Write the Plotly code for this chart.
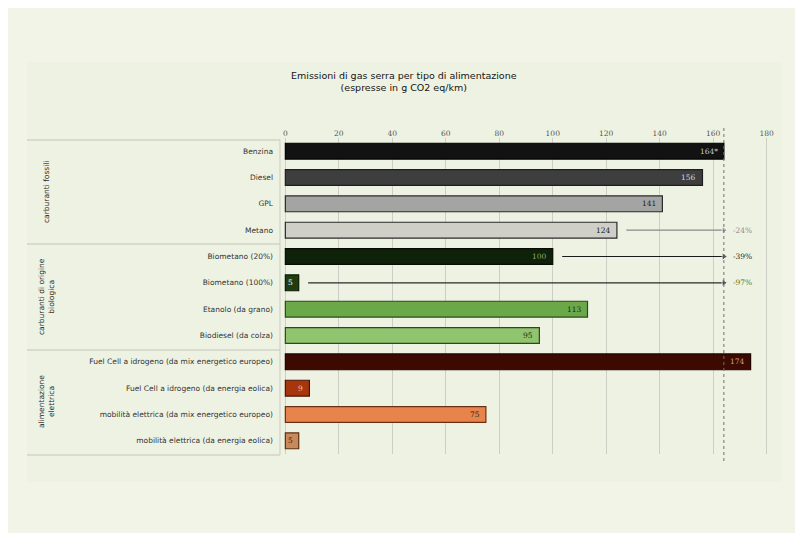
import plotly.graph_objects as go

categories = [
    "Benzina", "Diesel", "GPL", "Metano",
    "Biometano (20%)", "Biometano (100%)", "Etanolo (da grano)", "Biodiesel (da colza)",
    "Fuel Cell a idrogeno (da mix energetico europeo)", "Fuel Cell a idrogeno (da energia eolica)",
    "mobilità elettrica (da mix energetico europeo)", "mobilità elettrica (da energia eolica)",
]
values = [164, 156, 141, 124, 100, 5, 113, 95, 174, 9, 75, 5]
value_labels = ["164*", "156", "141", "124", "100", "5", "113", "95", "174", "9", "75", "5"]
bar_colors = ["#121212", "#3e3e3e", "#a4a4a2", "#cfcfc8", "#0f2108", "#1f3d0f",
              "#6aa84a", "#90c46f", "#3c0a01", "#a8360d", "#e8844b", "#c98a5b"]
edge_colors = ["#000000", "#1e1e1e", "#2a2a2a", "#2a2a2a", "#050d03", "#0a1a05",
               "#2c4a18", "#2c4a18", "#1c0400", "#4a1404", "#6a3016", "#5a3010"]
label_colors = ["#c8c8c8", "#d8d8d8", "#1a1a1a", "#1a1a1a", "#8fae6e", "#ffffff",
                "#1a2a0a", "#1a2a0a", "#d9a07e", "#f3c6a2", "#3a1808", "#3a1808"]

groups = ["carburanti fossili", "carburanti di origine<br>biologica", "alimentazione<br>elettrica"]

reference_value = 164
reduction_cats = ["Metano", "Biometano (20%)", "Biometano (100%)"]
reduction_labels = ["-24%", "-39%", "-97%"]
reduction_colors = ["#8a8a8a", "#1a1a1a", "#2a2a2a"]
reduction_text_colors = ["#8a8a8a", "#1a1a1a", "#4a7a1e"]

ticks = [0, 20, 40, 60, 80, 100, 120, 140, 160, 180]

# page body has an 8px margin; figure sized to fill the rest of the window
OFF = 8
W, H = 803 - OFF, 533 - OFF
PW, PH = 492, 316
L, T = 280 - OFF, 138 - OFF
R, B = W - L - PW, H - T - PH

def fx(px):  # reference-image pixel -> paper
    return (px - OFF - L) / PW

def fy(py):
    return 1 - (py - OFF - T) / PH

fig = go.Figure()
fig.add_trace(go.Bar(
    x=values, y=categories, orientation="h",
    marker=dict(color=bar_colors, line=dict(color=edge_colors, width=1.2)),
    width=0.6, showlegend=False, hoverinfo="x+y",
))

# reduction arrows
for cat, lab, lc, tc in zip(reduction_cats, reduction_labels, reduction_colors, reduction_text_colors):
    v = values[categories.index(cat)]
    fig.add_trace(go.Scatter(
        x=[v + 3.5, reference_value], y=[cat, cat], mode="lines+markers",
        line=dict(color=lc, width=1.2),
        marker=dict(symbol=["circle", "triangle-right"], size=[0.1, 7], color=lc),
        showlegend=False, hoverinfo="skip",
    ))
    fig.add_annotation(x=reference_value, y=cat, text=lab, showarrow=False,
                       xanchor="left", xshift=7, font=dict(size=7.5, color=tc, family="DejaVu Serif"))

# value labels
for cat, v, lab, c in zip(categories, values, value_labels, label_colors):
    fig.add_annotation(x=v, y=cat, text=lab, showarrow=False, xanchor="right", xshift=-4,
                       font=dict(size=7.5, color=c, family="DejaVu Serif"))

shapes = []
shapes.append(dict(type="rect", xref="paper", yref="paper", x0=fx(27), x1=fx(782), y0=fy(62), y1=fy(482),
                   fillcolor="#eef2e2", line=dict(width=0), layer="below"))
for py in [140, 244, 350, 455]:
    shapes.append(dict(type="line", xref="paper", yref="paper", x0=fx(27), x1=fx(280), y0=fy(py), y1=fy(py),
                       line=dict(color="#c2c4b9", width=1.2)))
shapes.append(dict(type="line", xref="paper", yref="paper", x0=fx(280), x1=fx(280), y0=fy(140), y1=fy(455),
                   line=dict(color="#c9cbc0", width=1)))
shapes.append(dict(type="line", xref="x", yref="paper", x0=reference_value, x1=reference_value,
                   y0=fy(128), y1=fy(462), line=dict(color="#707070", width=1, dash="dot")))
fig.update_layout(shapes=shapes)

centers = [192, 297, 402]
for g, cy in zip(groups, centers):
    fig.add_annotation(xref="paper", yref="paper", x=fx(46), y=fy(cy), text=g, showarrow=False,
                       xanchor="center", yanchor="middle",
                       textangle=-90, font=dict(size=7.5, color="#2a2a2a", family="DejaVu Sans"),
                       align="center")

fig.add_annotation(xref="paper", yref="paper", x=fx(404), y=fy(82), xanchor="center", yanchor="middle",
                   text="Emissioni di gas serra per tipo di alimentazione<br>(espresse in g CO2 eq/km)",
                   showarrow=False, align="center",
                   font=dict(size=9.5, color="#141414", family="DejaVu Sans"))

fig.update_layout(
    width=W, height=H,
    margin=dict(l=L, r=R, t=T, b=B),
    paper_bgcolor="#f1f4e6", plot_bgcolor="rgba(0,0,0,0)",
    xaxis=dict(range=[-2, 182], side="top", tickvals=ticks, ticktext=[str(t) for t in ticks],
               showgrid=True, gridcolor="#cdcfc6", gridwidth=1, zeroline=False,
               showline=False, ticks="", tickfont=dict(size=7.5, color="#555555", family="DejaVu Serif"),
               fixedrange=True),
    yaxis=dict(categoryorder="array", categoryarray=categories, autorange="reversed",
               showgrid=False, zeroline=False, showline=False, ticks="",
               ticklabelstandoff=6,
               tickfont=dict(size=7.5, color="#333333", family="DejaVu Sans")),
    font=dict(family="DejaVu Sans"),
)

fig.write_html("out.html")
